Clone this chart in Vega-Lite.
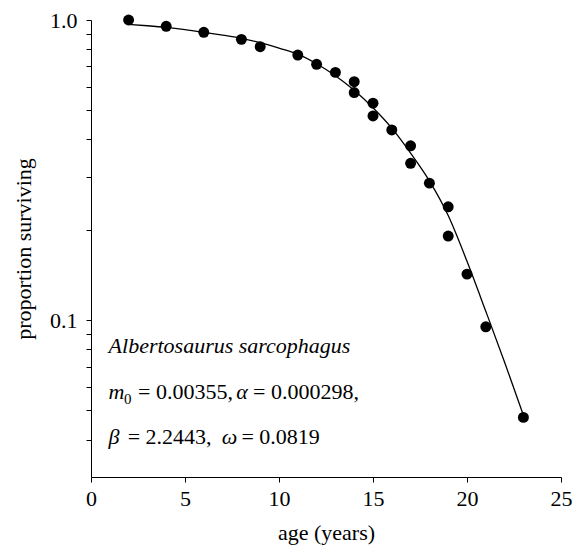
{
  "$schema": "https://vega.github.io/schema/vega-lite/v6.json",
  "width": 470,
  "height": 457,
  "autosize": "none",
  "padding": {"left": 91, "top": 20, "right": 21, "bottom": 77},
  "background": "white",
  "config": {
    "view": {"stroke": null},
    "font": "Liberation Serif",
    "axis": {
      "grid": false,
      "domainColor": "black",
      "domainWidth": 1,
      "tickColor": "black",
      "tickWidth": 1,
      "tickSize": 5,
      "labelColor": "black",
      "titleColor": "black",
      "labelFont": "Liberation Serif",
      "titleFont": "Liberation Serif",
      "labelFontSize": 22,
      "titleFontSize": 22,
      "titleFontWeight": "normal"
    }
  },
  "datasets": {
    "obs": [
      {"age": 2, "p": 1.0},
      {"age": 4, "p": 0.953},
      {"age": 6, "p": 0.910},
      {"age": 8, "p": 0.862},
      {"age": 9, "p": 0.815},
      {"age": 11, "p": 0.764},
      {"age": 12, "p": 0.712},
      {"age": 13, "p": 0.669},
      {"age": 14, "p": 0.623},
      {"age": 14, "p": 0.573},
      {"age": 15, "p": 0.528},
      {"age": 15, "p": 0.479},
      {"age": 16, "p": 0.430},
      {"age": 17, "p": 0.381},
      {"age": 17, "p": 0.333},
      {"age": 18, "p": 0.286},
      {"age": 19, "p": 0.2385},
      {"age": 19, "p": 0.1905},
      {"age": 20, "p": 0.1423},
      {"age": 21, "p": 0.0950},
      {"age": 23, "p": 0.0474}
    ],
    "fit": [
      {"age": 2, "p": 0.967},
      {"age": 3, "p": 0.957},
      {"age": 4, "p": 0.945},
      {"age": 5, "p": 0.929},
      {"age": 6, "p": 0.910},
      {"age": 7, "p": 0.890},
      {"age": 8, "p": 0.869},
      {"age": 9, "p": 0.840},
      {"age": 10, "p": 0.806},
      {"age": 11, "p": 0.770},
      {"age": 12, "p": 0.715},
      {"age": 13, "p": 0.652},
      {"age": 14, "p": 0.583},
      {"age": 15, "p": 0.510},
      {"age": 16, "p": 0.436},
      {"age": 17, "p": 0.360},
      {"age": 18, "p": 0.291},
      {"age": 19, "p": 0.223},
      {"age": 20, "p": 0.157},
      {"age": 21, "p": 0.107},
      {"age": 22, "p": 0.0724},
      {"age": 23, "p": 0.0482}
    ],
    "italic": [
      {"age": 0.936, "p": 0.0776, "label": "Albertosaurus sarcophagus"},
      {"age": 0.936, "p": 0.0545, "label": "m"},
      {"age": 7.72, "p": 0.0545, "label": "α"},
      {"age": 0.936, "p": 0.0386, "label": "β"},
      {"age": 6.95, "p": 0.0386, "label": "ω"}
    ],
    "plain": [
      {"age": 2.5, "p": 0.0545, "label": "= 0.00355,"},
      {"age": 8.62, "p": 0.0545, "label": "= 0.000298,"},
      {"age": 1.95, "p": 0.0386, "label": "= 2.2443,"},
      {"age": 8.0, "p": 0.0386, "label": "= 0.0819"}
    ],
    "sub": [
      {"age": 1.76, "p": 0.0545, "label": "0"}
    ]
  },
  "layer": [
    {
      "data": {"name": "fit"},
      "mark": {"type": "line", "color": "black", "strokeWidth": 1.3, "interpolate": "monotone"},
      "encoding": {
        "x": {
          "field": "age", "type": "quantitative",
          "scale": {"domain": [0, 25], "nice": false, "zero": false},
          "axis": {"values": [0, 5, 10, 15, 20, 25], "title": "age (years)", "labelPadding": 6, "titlePadding": 13, "labelFlush": false}
        },
        "y": {
          "field": "p", "type": "quantitative",
          "scale": {"type": "log", "domain": [0.03, 1], "nice": false},
          "axis": {
            "values": [0.04, 0.05, 0.06, 0.07, 0.08, 0.09, 0.1, 0.2, 0.3, 0.4, 0.5, 0.6, 0.7, 0.8, 0.9, 1],
            "labelExpr": "datum.value == 1 ? '1.0' : (abs(datum.value - 0.1) < 1e-9 ? '0.1' : '')",
            "title": "proportion surviving",
            "labelPadding": 9,
            "titlePadding": 14,
            "labelFlush": false
          }
        }
      }
    },
    {
      "data": {"name": "obs"},
      "mark": {"type": "point", "filled": true, "color": "black", "opacity": 1, "size": 120, "shape": "circle"},
      "encoding": {
        "x": {"field": "age", "type": "quantitative"},
        "y": {"field": "p", "type": "quantitative"}
      }
    },
    {
      "data": {"name": "italic"},
      "mark": {"type": "text", "align": "left", "baseline": "alphabetic", "font": "Liberation Serif", "fontStyle": "italic", "fontSize": 22, "color": "black"},
      "encoding": {
        "x": {"field": "age", "type": "quantitative"},
        "y": {"field": "p", "type": "quantitative"},
        "text": {"field": "label"}
      }
    },
    {
      "data": {"name": "plain"},
      "mark": {"type": "text", "align": "left", "baseline": "alphabetic", "font": "Liberation Serif", "fontSize": 22, "color": "black"},
      "encoding": {
        "x": {"field": "age", "type": "quantitative"},
        "y": {"field": "p", "type": "quantitative"},
        "text": {"field": "label"}
      }
    },
    {
      "data": {"name": "sub"},
      "mark": {"type": "text", "align": "left", "baseline": "alphabetic", "dy": 5, "font": "Liberation Serif", "fontSize": 15, "color": "black"},
      "encoding": {
        "x": {"field": "age", "type": "quantitative"},
        "y": {"field": "p", "type": "quantitative"},
        "text": {"field": "label"}
      }
    }
  ]
}
